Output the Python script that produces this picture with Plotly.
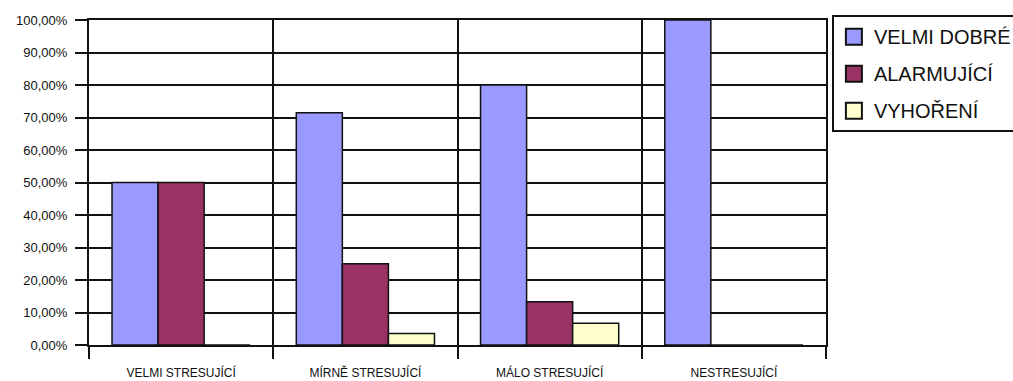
import plotly.graph_objects as go

# Stress level categories (x axis)
categories = ["VELMI STRESUJÍCÍ", "MÍRNĚ STRESUJÍCÍ", "MÁLO STRESUJÍCÍ", "NESTRESUJÍCÍ"]

# Share of respondents per result group (fractions of 1)
velmi_dobre = [0.50, 0.7143, 0.80, 1.00]
alarmujici = [0.50, 0.25, 0.1333, 0.0]
vyhoreni = [0.0, 0.0357, 0.0667, 0.0]

series_names = ["VELMI DOBRÉ", "ALARMUJÍCÍ", "VYHOŘENÍ"]
series_values = [velmi_dobre, alarmujici, vyhoreni]
series_colors = ["#9999FF", "#993366", "#FFFFCC"]

fig = go.Figure()

for name, vals, col in zip(series_names, series_values, series_colors):
    fig.add_trace(go.Bar(
        x=categories, y=vals, name=name,
        marker=dict(color=col, line=dict(color="#111111", width=1.5)),
        showlegend=False,
    ))

# Legend entries with larger square swatches
for i, (name, col) in enumerate(zip(series_names, series_colors)):
    fig.add_trace(go.Scatter(
        x=[None], y=[None], name=name, mode="markers",
        legendgroup=f"g{i}",
        marker=dict(symbol="square", size=16, color=col,
                    line=dict(color="#111111", width=2)),
    ))

axis_font = dict(family="Liberation Sans, Arial, sans-serif", size=12, color="#111111")
ytick_font = dict(family="Liberation Sans, Arial, sans-serif", size=13, color="#111111")

fig.update_layout(
    width=1013, height=381,
    margin=dict(l=89, r=187, t=20, b=36, autoexpand=False),
    paper_bgcolor="white", plot_bgcolor="white",
    separators=",.",
    barmode="group", bargap=0.25, bargroupgap=0,
    legend=dict(
        x=1.008, xanchor="left", y=1.015, yanchor="top",
        bordercolor="#111111", borderwidth=2,
        font=dict(family="Liberation Sans, Arial, sans-serif", size=20, color="#111111"),
        itemsizing="trace", tracegroupgap=8, itemwidth=30,
        traceorder="grouped",
    ),
    xaxis=dict(
        type="category", tickson="boundaries",
        showline=True, linecolor="#111111", linewidth=2, mirror=True,
        showgrid=True, gridcolor="#111111", gridwidth=2,
        ticks="outside", ticklen=12, tickwidth=2, tickcolor="#111111",
        ticklabelstandoff=16,
        tickfont=axis_font,
    ),
    yaxis=dict(
        range=[0, 1], dtick=0.1, tickformat=".2%",
        showline=True, linecolor="#111111", linewidth=2, mirror=True,
        showgrid=True, gridcolor="#111111", gridwidth=2, zeroline=False,
        ticks="outside", ticklen=12, tickwidth=2, tickcolor="#111111",
        ticklabelstandoff=5,
        tickfont=ytick_font,
    ),
)

fig.write_html("out.html")
